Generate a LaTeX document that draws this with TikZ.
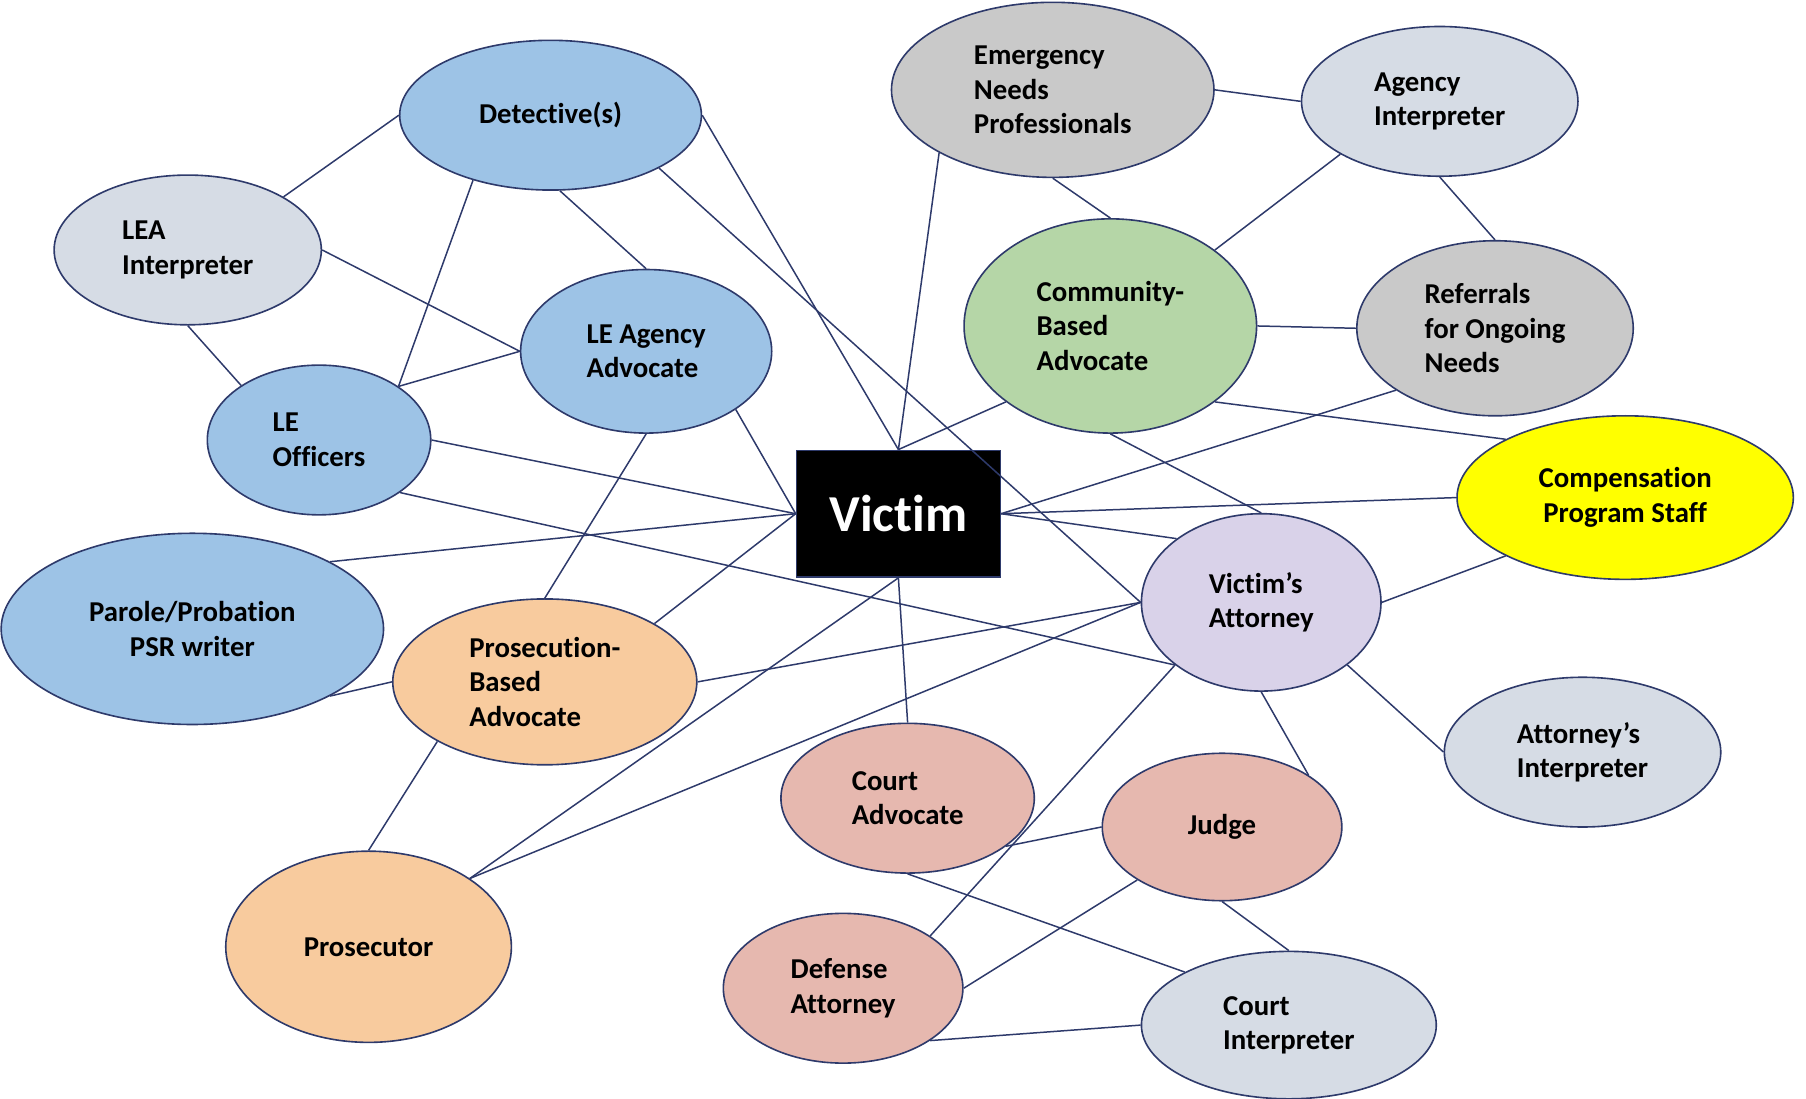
\documentclass[tikz,border=0pt]{standalone}
\usepackage{fontspec}
\setmainfont{Carlito}[Ligatures=NoCommon]
\usetikzlibrary{shapes.geometric}
\definecolor{linkcol}{HTML}{2E3A6B}
\definecolor{lawcol}{HTML}{9DC3E6}
\definecolor{interpcol}{HTML}{D6DCE5}
\definecolor{needcol}{HTML}{C9C9C9}
\definecolor{commcol}{HTML}{B5D6A7}
\definecolor{prosecol}{HTML}{F8CB9E}
\definecolor{courtcol}{HTML}{E6B8AF}
\definecolor{attycol}{HTML}{D9D2E9}
\definecolor{compcol}{HTML}{FFFF00}
\begin{document}
\begin{tikzpicture}[x=1pt,y=-1pt,
		role/.style={ellipse,draw=linkcol,line width=1.4pt,inner sep=0pt,align=left,
				font=\bfseries\fontsize{25}{30}\selectfont},
		radii/.style 2 args={minimum width=2*#1,minimum height=2*#2},
		link/.style={draw=linkcol,line width=1.3pt}]
	\useasboundingbox (0,0) rectangle (1568,954);
	\node[role,fill=lawcol,radii={131}{65}] (det) at (478,100) {Detective(s)};
	\node[role,fill=interpcol,radii={116}{65}] (leai) at (163,217) {LEA\\Interpreter};
	\node[role,fill=lawcol,radii={109}{71}] (leaa) at (561,305) {LE Agency\\Advocate};
	\node[role,fill=lawcol,radii={97}{65}] (leo) at (277,382) {LE\\Officers};
	\node[role,fill=lawcol,radii={166}{83},align=center] (par) at (167,546) {Parole/Probation\\PSR writer};
	\node[role,fill=prosecol,radii={132}{72}] (pba) at (473,592) {Prosecution-\\Based\\Advocate};
	\node[role,fill=prosecol,radii={124}{83}] (pros) at (320,822) {Prosecutor};
	\node[draw=linkcol,fill=black,text=white,line width=1.4pt,inner sep=0pt,
		minimum width=177,minimum height=110,
		font=\bfseries\fontsize{45}{54}\selectfont] (vic) at (780,446) {Victim};
	\node[role,fill=needcol,radii={140}{76}] (emer) at (914,78) {Emergency\\Needs\\Professionals};
	\node[role,fill=interpcol,radii={120}{65}] (agi) at (1250,88) {Agency\\Interpreter};
	\node[role,fill=commcol,radii={127}{93}] (cba) at (964,283) {Community-\\Based\\Advocate};
	\node[role,fill=needcol,radii={120}{76}] (ref) at (1298,285) {Referrals\\for Ongoing\\Needs};
	\node[role,fill=compcol,radii={146}{71},align=center] (comp) at (1411,432) {Compensation\\Program Staff};
	\node[role,fill=attycol,radii={104}{77}] (va) at (1095,523) {Victim’s\\Attorney};
	\node[role,fill=interpcol,radii={120}{65}] (ati) at (1374,653) {Attorney’s\\Interpreter};
	\node[role,fill=courtcol,radii={110}{65}] (ca) at (788,693) {Court\\Advocate};
	\node[role,fill=courtcol,radii={104}{64}] (judge) at (1061,718) {Judge};
	\node[role,fill=courtcol,radii={104}{65}] (def) at (732,858) {Defense\\Attorney};
	\node[role,fill=interpcol,radii={128}{64}] (ci) at (1119,890) {Court\\Interpreter};
	\foreach \a/\b in {leai.29/det.west,leai.east/leaa.west,leai.south/leo.145.7,
			det.220/leo.34.6,det.277/leaa.north,det.east/vic.north,det.-26.3/va.west,
			leo.34.6/leaa.west,leo.east/vic.west,leo.-33.1/va.216,
			leaa.-33/vic.west,leaa.south/pba.north,
			par.26.4/vic.west,par.-26.4/pba.west,
			pba.28.7/vic.west,pba.east/va.west,pba.209/pros.north,
			pros.34/vic.south,pros.34/va.west,
			vic.south/ca.north,vic.north/emer.209,vic.north/cba.216,
			vic.east/ref.212.7,vic.east/comp.west,vic.east/va.143.9,
			emer.east/agi.west,emer.south/cba.north,
			agi.208.4/cba.36.3,agi.south/ref.north,
			cba.east/ref.west,cba.-36.3/comp.154.3,cba.south/va.north,
			va.east/comp.206.1,va.-36.1/ati.west,va.south/judge.31.9,va.216/def.31.2,
			ca.-26.6/judge.west,ca.south/ci.153.7,
			judge.212.4/def.east,judge.south/ci.north,
			def.-31.7/ci.west}{
			\draw[link] (\a) -- (\b);
		}
\end{tikzpicture}
\end{document}
